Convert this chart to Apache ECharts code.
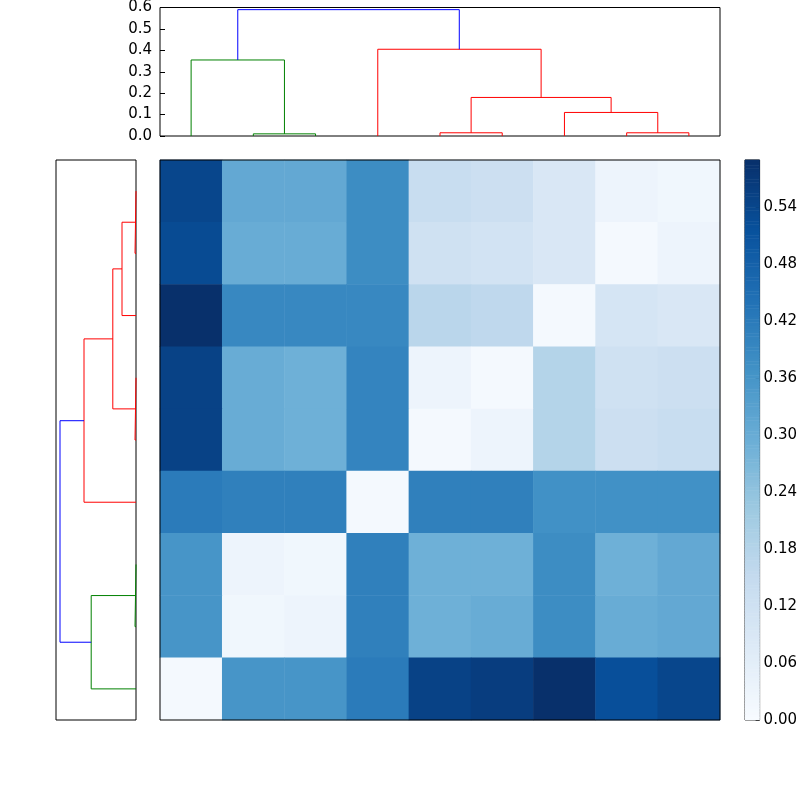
<!DOCTYPE html>
<html><head><meta charset="utf-8">
<script src="https://cdn.jsdelivr.net/npm/echarts@6/dist/echarts.min.js"></script>
<style>html,body{margin:0;background:#fff}#c{width:800px;height:800px}</style>
</head><body><div id="c"></div>
<script>
const heatRows = [
 [0.54,0.31,0.31,0.38,0.14,0.13,0.09,0.03,0.02],
 [0.53,0.30,0.30,0.38,0.12,0.11,0.09,0.01,0.03],
 [0.59,0.39,0.39,0.39,0.17,0.16,0.01,0.10,0.09],
 [0.55,0.30,0.29,0.40,0.03,0.01,0.18,0.12,0.13],
 [0.55,0.30,0.29,0.40,0.01,0.03,0.18,0.13,0.14],
 [0.42,0.41,0.41,0.01,0.41,0.41,0.37,0.37,0.37],
 [0.36,0.03,0.02,0.41,0.29,0.29,0.38,0.29,0.31],
 [0.36,0.02,0.03,0.41,0.29,0.30,0.38,0.30,0.31],
 [0.01,0.36,0.36,0.42,0.55,0.56,0.59,0.52,0.54]
];
// top dendrogram: leaf coords 5..85, heights
const topLinkX = [[15,15,25,25],[5,5,20,20],[45,45,55,55],[75,75,85,85],[65,65,80,80],[50,50,72.5,72.5],[35,35,61.25,61.25],[12.5,12.5,48.1,48.1]];
const topLinkY = [[0,0.01,0.01,0],[0,0.355,0.355,0.01],[0,0.015,0.015,0],[0,0.015,0.015,0],[0,0.11,0.11,0.015],[0.015,0.18,0.18,0.11],[0,0.405,0.405,0.18],[0.355,0.59,0.59,0.405]];
const topColors = ['green','green','red','red','red','red','red','blue'];
// left dendrogram: leaf coords 5..85 from top, heights
const leftLinkY = [[5,5,15,15],[10,10,25,25],[35,35,45,45],[17.5,17.5,40,40],[28.75,28.75,55,55],[65,65,75,75],[70,70,85,85],[41.9,41.9,77.5,77.5]];
const leftLinkX = [[0,0.0125,0.0125,0],[0.0125,0.175,0.175,0],[0,0.0125,0.0125,0],[0.175,0.29,0.29,0.0125],[0.29,0.65,0.65,0],[0,0.0125,0.0125,0],[0.0125,0.56,0.56,0],[0.65,0.95,0.95,0.56]];
const leftColors = ['red','red','red','red','red','green','green','blue'];
const cbTicks = [0,0.06,0.12,0.18,0.24,0.30,0.36,0.42,0.48,0.54];
const cbMax = 0.59;

const blues = ['#f7fbff','#deebf7','#c6dbef','#9ecae1','#6baed6','#4292c6','#2171b5','#08519c','#08306b'];
const font = {fontFamily:'DejaVu Sans', fontSize:15, color:'#000'};
const heatData = [];
heatRows.forEach((r,i)=>r.forEach((v,j)=>heatData.push([j,8-i,v])));
const nCb = 200, cbCats=[], cbData=[];
for(let k=0;k<nCb;k++){cbCats.push(k);cbData.push([0,k,(k+0.5)/nCb*cbMax]);}
const series=[];
topLinkX.forEach((xs,i)=>series.push({type:'line',xAxisIndex:0,yAxisIndex:0,symbol:'none',silent:true,
  lineStyle:{color:topColors[i],width:1},data:xs.map((x,k)=>[x,topLinkY[i][k]])}));
leftLinkY.forEach((ys,i)=>series.push({type:'line',xAxisIndex:1,yAxisIndex:1,symbol:'none',silent:true,
  lineStyle:{color:leftColors[i],width:1},data:ys.map((y,k)=>[leftLinkX[i][k],y])}));
series.push({type:'heatmap',xAxisIndex:2,yAxisIndex:2,data:heatData});
series.push({type:'heatmap',xAxisIndex:3,yAxisIndex:3,data:cbData});
const hid={show:false};
const opt={
 animation:false,backgroundColor:'#fff',
 grid:[
  {left:160,top:4,width:560,height:132,show:true,borderColor:'#000',borderWidth:1,backgroundColor:'transparent'},
  {left:56,top:160,width:80,height:560,show:true,borderColor:'#000',borderWidth:1,backgroundColor:'transparent'},
  {left:160,top:160,width:560,height:560,show:true,borderColor:'#000',borderWidth:1,backgroundColor:'transparent',z:10},
  {left:745,top:160,width:15,height:560,show:true,borderColor:'#000',borderWidth:1,backgroundColor:'transparent'}
 ],
 xAxis:[
  {type:'value',gridIndex:0,min:0,max:90,axisLabel:hid,axisTick:hid,splitLine:hid,axisLine:hid},
  {type:'value',gridIndex:1,min:0,max:1,inverse:true,axisLabel:hid,axisTick:hid,splitLine:hid,axisLine:hid},
  {type:'category',gridIndex:2,data:[0,1,2,3,4,5,6,7,8],axisLabel:hid,axisTick:hid,axisLine:hid,splitLine:hid},
  {type:'category',gridIndex:3,data:[0],axisLabel:hid,axisTick:hid,axisLine:hid}
 ],
 yAxis:[
  {type:'value',gridIndex:0,min:0,max:0.6,interval:0.1,axisLine:hid,splitLine:hid,
   axisTick:{show:true,inside:true,length:5,lineStyle:{color:'#000'}},
   axisLabel:Object.assign({formatter:v=>v.toFixed(1),margin:8},font)},
  {type:'value',gridIndex:1,min:0,max:90,inverse:true,axisLabel:hid,axisTick:hid,splitLine:hid,axisLine:hid},
  {type:'category',gridIndex:2,data:[0,1,2,3,4,5,6,7,8],axisLabel:hid,axisTick:hid,axisLine:hid,splitLine:hid},
  {type:'category',gridIndex:3,data:cbCats,axisLabel:hid,axisTick:hid,axisLine:hid},
  {type:'value',gridIndex:3,position:'right',min:0,max:cbMax,axisLine:hid,splitLine:hid,
   axisTick:{show:true,inside:true,length:4,lineStyle:{color:'#000'},customValues:cbTicks},
   axisLabel:Object.assign({customValues:cbTicks,formatter:v=>v.toFixed(2),margin:4},font)}
 ],
 visualMap:{show:false,min:0,max:cbMax,seriesIndex:[series.length-2,series.length-1],inRange:{color:blues}},
 series
};
echarts.init(document.getElementById('c')).setOption(opt);
</script></body></html>
